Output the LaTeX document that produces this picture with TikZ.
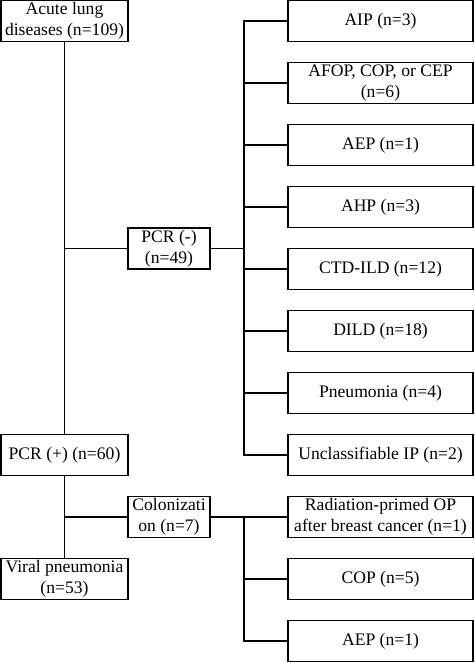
\documentclass[tikz,border=0pt]{standalone}
\usepackage{fontspec}
\setmainfont{Liberation Serif}
\begin{document}
\begin{tikzpicture}[x=1pt,y=-1pt,
  box/.style={draw=black,line width=1.7pt,inner sep=0pt,align=center,
    font=\fontsize{17.6}{21}\selectfont},
  lbox/.style={box,minimum width=127pt,minimum height=41pt},
  mbox/.style={box,minimum width=82pt,minimum height=41pt},
  rbox/.style={box,minimum width=185pt,minimum height=41pt},
  conn/.style={draw=black,line width=1.7pt}]
\useasboundingbox (0,0) rectangle (474,663);
% left column
\node[lbox] (acute) at (64.5,21) {Acute lung\\diseases (n=109)};
\node[lbox] (pcrp) at (64.5,455) {PCR (+) (n=60)};
\node[lbox] (viral) at (64.5,579) {Viral pneumonia\\(n=53)};
% middle column
\node[mbox] (pcrm) at (169,248.5) {PCR (-)\\(n=49)};
\node[mbox] (colon) at (169,517) {Colonizati\\on (n=7)};
% right column
\node[rbox] (aip) at (380.5,21) {AIP (n=3)};
\node[rbox] (afop) at (380.5,83) {AFOP, COP, or CEP\\(n=6)};
\node[rbox] (aep) at (380.5,145) {AEP (n=1)};
\node[rbox] (ahp) at (380.5,207) {AHP (n=3)};
\node[rbox] (ctd) at (380.5,269) {CTD-ILD (n=12)};
\node[rbox] (dild) at (380.5,331) {DILD (n=18)};
\node[rbox] (pneu) at (380.5,393) {Pneumonia (n=4)};
\node[rbox] (uncl) at (380.5,455) {Unclassifiable IP (n=2)};
\node[rbox] (rad) at (380.5,517) {Radiation-primed OP\\after breast cancer (n=1)};
\node[rbox] (cop) at (380.5,579) {COP (n=5)};
\node[rbox] (aep2) at (380.5,641) {AEP (n=1)};
% junction coordinates
\coordinate (j1) at (244,248.5);
\coordinate (j2) at (244,517);
% left trunk
\draw[conn] (acute.south) -- (pcrp.north);
\draw[conn] (pcrp.south) -- (viral.north);
\draw[conn] (pcrm.west) -- (pcrm.west -| acute.south);
\draw[conn] (colon.west) -- (colon.west -| pcrp.south);
% PCR(-) branch
\draw[conn] (pcrm.east) -- (j1);
\draw[conn] (aip.west) -- (aip.west -| j1) -- (uncl.west -| j1) -- (uncl.west);
\foreach \n in {afop,aep,ahp,ctd,dild,pneu}
  \draw[conn] (\n.west) -- (\n.west -| j1);
% colonization branch
\draw[conn] (colon.east) -- (rad.west);
\draw[conn] (j2) -- (aep2.west -| j2) -- (aep2.west);
\draw[conn] (cop.west) -- (cop.west -| j2);
\end{tikzpicture}
\end{document}
